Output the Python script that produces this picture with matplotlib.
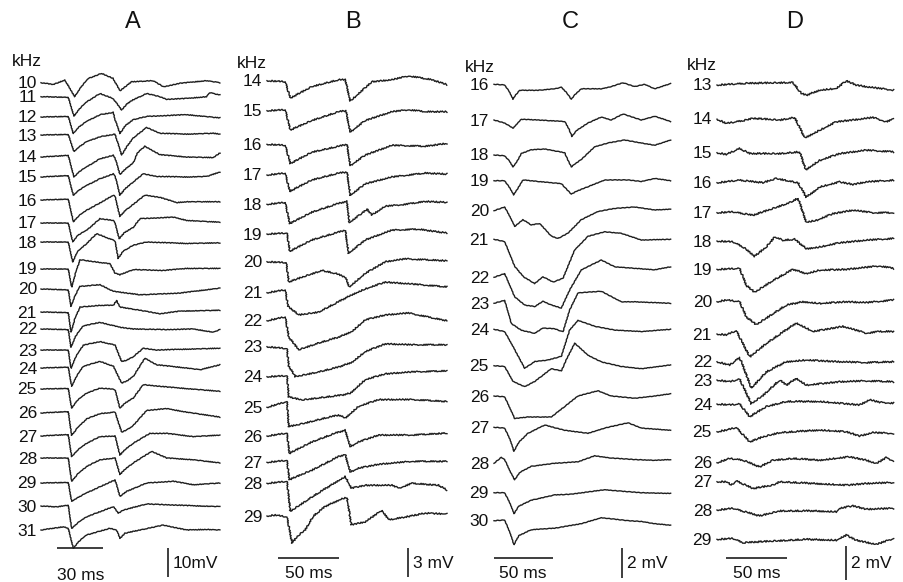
import numpy as np
import matplotlib
matplotlib.use("Agg")
import matplotlib.pyplot as plt

W, H, DPI = 904, 582, 100
INK = "#1e1e1e"
plt.rcParams["font.family"] = ["Liberation Sans", "DejaVu Sans"]

# ── Panel A : 10-31 kHz, traces as (ms, mV) keypoints ─────────
A_KHZ = [10, 11, 12, 13, 14, 15, 16, 17, 18, 19, 20, 21, 22, 23, 24, 25, 26, 27, 28, 29, 30, 31]
A_TRACES = [
    [(0, 0), (8, -0.6), (15.6, 0.9), (22, -4.8), (26, -1.5), (31, 1.5), (39.6, 3.2), (47, 1.5), (51.5, -2.8), (59, 0.3), (73, 0.7), (80, -1.4), (90.7, -0.2), (108, 0.7), (116.7, 0)],
    [(0, 0), (17.8, -0.2), (21.5, -6.7), (25, -4.2), (30, -1.7), (38.5, 1.1), (47, -0.6), (52.6, -4.6), (56, -2.5), (60, -1.1), (69, 1.1), (77.6, 0), (82, -0.9), (95, -0.6), (108, 0), (110, 1.4), (116.7, 0.6)],
    [(0, 0), (17.8, 0.2), (21.1, -5.7), (24.5, -3.5), (29.8, -1.5), (38.5, 0.8), (47.2, 1.6), (48.3, -0.9), (51.5, -5.7), (55, -3), (60.2, -0.9), (68.9, 0.2), (82, 0.5), (95, 0.8), (116.7, -0.3)],
    [(0, 0), (17.8, 0.2), (21.5, -5.7), (25, -4), (29.8, -2.3), (38.5, -0.6), (48.3, 0.3), (52.6, -6.9), (56, -4), (60.2, -1), (68.9, 2.6), (77.6, 0.6), (95, 0.3), (112.4, 0.6), (116.7, 0.3)],
    [(0, 0), (10, 0.3), (17.8, 0.6), (21.5, -6.9), (25, -5), (29.8, -3.4), (38.5, -0.6), (47.2, 0.6), (48.3, -0.3), (51.5, -6), (55, -4.2), (60.2, -2), (63, 1.5), (67.8, 3.7), (77.6, 0.8), (95, 0), (112.4, -0.2), (116.7, 1.4)],
    [(0, 0), (17.8, 0.5), (21.1, -6.3), (24.5, -4.6), (29.8, -2.9), (38.5, -0.6), (47.2, 1.1), (48.3, 0.5), (51.5, -6.3), (55, -4), (60.2, -1.7), (66.7, 1.1), (75.4, 0.2), (95, 0), (108, 0.2), (116.7, 1.7)],
    [(0, 0), (17.8, 0.3), (21.1, -7.5), (24.5, -5.5), (29.8, -3.5), (38.5, -1), (47.2, 1.7), (48.3, 1.2), (51.5, -5.7), (55, -3.6), (60.2, -1.5), (67.8, 1.7), (77.6, 0.9), (88.5, -0.9), (95, -0.6), (116.7, -0.6)],
    [(0, 0), (17.8, 0), (20.7, -6.5), (24, -4.2), (29.8, -2.5), (38.5, 1.5), (47.2, 0.9), (48, 0.5), (51, -5.4), (54.5, -3.3), (60.2, -1.5), (64.6, 1.5), (86.3, 2), (95, 0.9), (108, 0.5), (116.7, 0.3)],
    [(0, 0), (17.8, 0), (20.7, -6.9), (23.5, -3.5), (29.8, -0.5), (36.3, 2.9), (47.2, 0.6), (48.3, 0.3), (50.4, -5.7), (53.5, -3.2), (60.2, -1.1), (68.9, 0), (95, -0.5), (116.7, -0.3)],
    [(0, 0), (17.8, 0), (20, -6.2), (22.5, -1.5), (25.4, 3.2), (45, 1.8), (48.3, -1.4), (51.5, -2), (60.2, -0.2), (79.8, -0.5), (95, 0.2), (116.7, 0.2)],
    [(0, 0), (17.8, -0.3), (19.6, -6), (22, -2.5), (25.4, 0.9), (38.5, 1.5), (47.2, -0.8), (64.6, -2), (90.7, -1.4), (116.7, 0.3)],
    [(0, 0), (17.8, -0.2), (19.6, -6.9), (22, -2.5), (25.4, 1.7), (38.5, 2.3), (47.2, 2.3), (49.3, 4), (51.5, 1.7), (64.6, 0.6), (77.6, -0.6), (90.7, 0.3), (116.7, 0.6)],
    [(0, 0), (17.8, -0.2), (19.6, -6.3), (22.5, -2.5), (27.6, 1.1), (38.5, 2.3), (51.5, 0.6), (60.2, 0), (82, -0.2), (99.3, 0), (112.4, -1.1), (116.7, -0.2)],
    [(0, 0), (17.8, 0), (19.6, -6.3), (22.5, -2.5), (27.6, 1.7), (38.5, 2.9), (48.3, 1.7), (52.6, -4), (56, -3.5), (60.2, -2.3), (66.7, 0.6), (75.4, 0), (116.7, 0.6)],
    [(0, 0), (17.8, 0.3), (20, -6.3), (23, -3), (27.6, 0.6), (38.5, 2.3), (47.2, 0.6), (52.6, -5.2), (56, -4.5), (60.2, -2.9), (67.8, 3.4), (75.4, 1.1), (95, 0), (103.7, -0.6), (116.7, 1.1)],
    [(0, 0), (17.8, 0.2), (20, -6.6), (23.5, -4), (29.8, -1.4), (38.5, 0.3), (47.2, 0), (48.3, -0.3), (51.5, -6.6), (55, -4.8), (60.2, -3.1), (66.7, 1.5), (82, 0.7), (116.7, -0.8)],
    [(0, 0), (17.8, 0.5), (20, -7.7), (24, -5), (29.8, -2), (38.5, -0.2), (48.3, 0.3), (52.6, -6.6), (56, -5.8), (60.2, -4.3), (68.9, 0.9), (82, 1.5), (95, 0.3), (116.7, -1.4)],
    [(0, 0), (10, 0.3), (17.8, 0.5), (20, -7.1), (24, -4.8), (29.8, -2.5), (38.5, -0.2), (48.3, 0), (51.5, -6.6), (55, -4.6), (60.2, -2.5), (71, 0.9), (82, 0.9), (99.3, -0.2), (116.7, 0.3)],
    [(0, 0), (17.8, 0), (20, -8), (24, -5.5), (29.8, -2.9), (38.5, -0.6), (48.3, 0), (51.5, -5.7), (55, -3.8), (60.2, -1.7), (72.2, 2.3), (82, 0), (99.3, -0.6), (116.7, -1.7)],
    [(0, 0), (17.8, 0.2), (20, -6.3), (24, -5), (29.8, -3.4), (48.3, 1.1), (51.5, -4.6), (55.9, -2.9), (68.9, 0), (86.3, 0.6), (99.3, -0.6), (116.7, 0)],
    [(0, 0), (10, -0.3), (17.8, 0.3), (20, -7.7), (24, -5.8), (29.8, -3.7), (47.2, -0.2), (50.4, -2.5), (53.7, -1.4), (68.9, 0.7), (103.7, 0), (116.7, -0.2)],
    [(0, 0), (14.6, 1.1), (17.8, 0.6), (21.1, -6.3), (24.5, -4), (29.8, -1.7), (45, 0.6), (49.3, 0), (51.5, -2.9), (54.8, -1.1), (64.6, 0), (79.8, 1.7), (95, 0), (108, 0.2), (116.7, 0)],
]

# ── Panel B : 14-29 kHz ───────────────────────────────────────
B_KHZ = [14, 15, 16, 17, 18, 19, 20, 21, 22, 23, 24, 25, 26, 27, 28, 29]
B_TRACES = [
    [(0, 0), (15, -0.1), (19.1, -1.8), (36.9, -0.6), (58.7, 0.1), (64.2, 0.1), (68.3, -2.1), (86, -0.1), (102.5, 0.1), (116, 0.5), (135.2, 0.1), (147.5, -0.4)],
    [(0, 0), (15, 0.1), (19.1, -2), (36.9, -1), (58.7, -0.1), (64.7, 0), (68.3, -2.2), (80.6, -1), (102.5, -0.1), (116, 0.1), (129.8, -0.1), (147.5, -0.1)],
    [(0, 0), (15, -0.1), (19.1, -2), (36.9, -0.8), (58.7, -0.2), (65.6, 0), (68.3, -2.2), (80.6, -1.1), (102.5, -0.1), (129.8, -0.2), (147.5, 0.1)],
    [(0, 0), (15, 0.2), (18.6, -1.7), (36.9, -0.5), (58.7, 0.2), (65.6, 0.3), (68.3, -2.1), (80.6, -0.9), (102.5, -0.2), (129.8, 0.2), (147.5, 0.1)],
    [(0, 0), (15, 0.2), (18.6, -2), (36.9, -0.8), (58.7, 0.1), (65.6, 0.3), (67.5, -1.9), (77.9, -0.9), (82, -0.5), (86, -1.1), (97, -0.2), (113.4, 0), (129.8, 0.3), (147.5, 0.2)],
    [(0, 0), (16.4, 0.1), (18.6, -1.8), (36.9, -0.6), (58.7, 0.2), (64.2, 0.4), (66.9, -2), (80.6, -0.6), (102.5, 0.4), (124.3, 0.5), (147.5, 0.1)],
    [(0, 0), (15.8, -0.1), (17.8, -2.1), (28.7, -1.6), (45, -0.9), (56, -1.2), (64.2, -1.6), (67.5, -2.6), (80.6, -1.2), (97, 0), (113.4, 0.3), (129.8, 0.2), (147.5, 0.1)],
    [(0, 0), (15, 0.3), (17.2, -1.4), (26, -2.3), (42.3, -2), (56, -1.1), (69.7, -0.2), (80.6, 0.4), (97, 1.1), (118.9, 0.9), (147.5, 0.6)],
    [(0, 0), (15, 0.4), (17.8, -1.7), (26, -3), (42.3, -2.3), (58.7, -1.7), (69.7, -1.1), (80.6, 0.1), (97, 0.6), (116, 0.8), (135.2, 0.3), (147.5, 0)],
    [(0, 0), (16.4, -0.2), (17.8, -2), (23.2, -3.1), (42.3, -2.6), (58.7, -2.1), (69.7, -1.6), (80.6, -0.5), (97, 0.3), (118.9, 0.2), (147.5, 0.2)],
    [(0, 0), (16.4, 0.1), (17.8, -2.1), (28.7, -2.4), (47.8, -2.1), (61.5, -1.9), (68.3, -1.7), (80.6, -0.3), (97, 0.3), (118.9, 0.5), (147.5, 0.6)],
    [(0, 0), (16.4, 0.6), (17.8, -2), (28.7, -1.7), (47.8, -1.1), (58.7, -0.8), (64.2, -1.1), (75.1, 0.1), (91.5, 0.8), (118.9, 0.8), (147.5, 0.6)],
    [(0, 0), (16.4, 0.3), (18.3, -1.8), (36.9, -0.6), (56, 0.3), (64.2, 0.6), (68.3, -1.1), (75.1, -0.6), (91.5, 0.1), (118.9, 0.1), (147.5, 0.3)],
    [(0, 0), (16.4, 0.2), (18.3, -1.8), (36.9, -0.8), (58.7, 0.6), (64.2, 0.8), (68.3, -1), (75.1, -0.6), (91.5, -0.2), (118.9, 0.1), (147.5, 0.1)],
    [(0, 0), (16.4, 0.2), (19.1, -2.9), (36.9, -1.4), (58.7, 0.3), (64.2, 0.7), (69.1, -0.5), (80.6, -0.2), (102.5, -0.2), (108, -0.5), (118.9, 0), (140.7, -0.2), (147.5, -0.7)],
    [(0, 0), (6.8, 0.1), (16.4, -0.1), (20.5, -2.8), (25, -2.1), (31.4, -1.4), (38, 0), (47.8, 1), (61.5, 1.8), (65.6, 1.9), (69.1, -0.9), (80.6, -0.6), (94.3, 0.6), (99.7, -0.4), (113.4, -0.1), (129.8, 0.3), (147.5, 0.2)],
]

# ── Panel C : 16-30 kHz ───────────────────────────────────────
C_KHZ = [16, 17, 18, 19, 20, 21, 22, 23, 24, 25, 26, 27, 28, 29, 30]
C_TRACES = [
    [(0, 0), (9, -0.04), (13, -0.5), (16.1, -1), (18.5, -0.7), (21.8, -0.4), (37.3, -0.4), (51.4, -0.3), (57.1, -0.2), (62, -0.6), (65.5, -1), (68.5, -0.7), (74, -0.3), (91, -0.3), (99.4, -0.15), (109.3, 0.1), (119.2, -0.15), (127.7, 0), (136.2, -0.3), (149.7, 0.05)],
    [(0, 0), (9, -0.2), (16.1, -0.55), (23.2, 0.05), (37.3, 0), (59.9, -0.1), (63.5, -0.6), (66.1, -1.1), (70, -0.7), (79.7, -0.2), (91, 0.2), (99.4, 0), (109.3, 0.4), (124.9, 0), (136.2, 0.25), (149.7, -0.1)],
    [(0, 0), (9, -0.05), (13, -0.4), (16.1, -0.8), (19, -0.5), (23.2, 0.1), (31.6, 0.35), (42.9, 0.4), (59.9, 0.15), (63, -0.4), (65.5, -0.8), (68.5, -0.6), (74, -0.3), (85.3, 0.55), (96.6, 0.8), (110.7, 1), (124.9, 0.8), (136.2, 0.65), (149.7, 1)],
    [(0, 0), (9, 0), (13.5, -0.5), (16.7, -0.95), (19.5, -0.6), (24.6, 0.05), (37.3, -0.05), (57.1, -0.2), (65.5, -0.9), (70, -0.7), (79.7, -0.4), (93.8, 0.05), (113.6, 0.05), (124.9, -0.05), (136.2, 0.15), (149.7, 0)],
    [(0, 0), (9, 0.25), (13.5, -0.4), (17.5, -1.05), (24.6, -0.6), (31.6, -0.95), (38.7, -0.85), (48.6, -1.7), (54.2, -1.85), (62.7, -1.5), (74, -0.6), (88.1, -0.05), (102.3, 0.15), (119.2, 0.25), (136.2, 0.05), (149.7, 0.1)],
    [(0, 0), (9, -0.15), (17.5, -1.8), (25, -2.5), (34.5, -2.95), (41.5, -2.5), (50, -2.85), (58.5, -2.6), (68.4, -0.7), (79.7, 0.2), (93.8, 0.5), (107.9, 0.4), (124.9, -0.05), (149.7, 0)],
    [(0, 0), (9, 0.25), (17.5, -1.3), (26, -1.85), (34.5, -1.95), (41.5, -1.6), (48.6, -1.85), (57.1, -2.05), (64.1, -0.85), (74, 0.5), (91, 1.15), (102.3, 0.7), (119.2, 0.6), (136.2, 0.5), (149.7, 0.7)],
    [(0, 0), (9, 0.2), (14.7, -1.35), (23.2, -1.8), (34.5, -2), (41.5, -1.65), (51.4, -1.7), (58.5, -1.9), (64.1, -0.45), (71.2, 0.7), (91, 0.8), (107.9, 0.1), (119.2, 0.1), (149.7, 0)],
    [(0, 0), (9, -0.15), (16.1, -1.15), (26, -2.6), (34.5, -2.15), (45.8, -2.05), (57.1, -1.8), (64.1, -0.05), (71.2, 0.6), (85.3, 0.2), (102.3, -0.05), (124.9, -0.15), (149.7, 0)],
    [(0, 0), (9, -0.05), (16.1, -1.05), (26, -1.4), (34.5, -1.05), (48.6, -0.2), (57.1, -0.35), (61.3, 0.4), (68.4, 1.5), (79.7, 0.7), (91, 0.25), (107.9, -0.05), (124.9, -0.2), (149.7, 0.05)],
    [(0, 0), (9, -0.05), (17.5, -1.5), (28.8, -1.4), (48.6, -1.4), (59.9, -0.7), (71.2, 0), (88.1, 0.35), (99.4, 0), (119.2, -0.15), (136.2, 0), (149.7, 0.15)],
    [(0, 0), (9, -0.05), (13.5, -0.8), (16.9, -1.6), (21, -1), (28.8, -0.4), (42.9, 0.15), (59.9, -0.2), (79.7, -0.4), (93.8, -0.05), (113.6, 0.3), (124.9, -0.05), (149.7, -0.2)],
    [(0, 0), (6.2, 0.4), (9, 0.25), (14, -0.6), (17.5, -1.1), (22, -0.6), (31.6, -0.2), (51.4, 0), (71.2, 0.1), (85.3, 0.5), (99.4, 0.35), (119.2, 0.25), (136.2, 0.2), (149.7, 0.25)],
    [(0, 0), (9, 0), (13.5, -0.7), (16.9, -1.4), (21, -0.9), (31.6, -0.5), (51.4, -0.15), (65.5, -0.1), (93.8, 0.2), (107.9, 0.1), (124.9, 0), (149.7, -0.05)],
    [(0, 0), (9, 0.05), (13.5, -0.8), (16.9, -1.6), (21, -1), (31.6, -0.6), (51.4, -0.5), (74, -0.2), (91, 0.2), (113.6, 0), (124.9, -0.05), (136.2, -0.2), (149.7, -0.3)],
]

# ── Panel D : 13-29 kHz ───────────────────────────────────────
D_KHZ = [13, 14, 15, 16, 17, 18, 19, 20, 21, 22, 23, 24, 25, 26, 27, 28, 29]
D_TRACES = [
    [(0, 0), (24, 0.1), (62.3, 0.15), (69.1, -0.5), (73.2, -0.6), (84.2, -0.3), (97.8, -0.2), (106, 0.25), (114.2, 0), (122.4, -0.1), (133.3, -0.2), (144.8, -0.3)],
    [(0, -0.05), (7.7, -0.3), (24, -0.1), (29.5, 0), (51.4, -0.1), (63.7, 0.05), (71.9, -1.15), (84.2, -0.7), (97.8, -0.2), (116.9, -0.05), (127.9, 0.05), (138.8, -0.2), (144.8, -0.05)],
    [(0, 0), (7.7, -0.1), (18.6, 0.25), (26.8, -0.05), (51.4, -0.05), (67.8, 0.05), (72.7, -1), (84.2, -0.45), (100.5, -0.05), (122.4, 0.15), (144.8, 0.05)],
    [(0, 0), (18.6, 0.15), (37.7, 0), (48.6, 0.25), (66.4, 0), (73.2, -0.85), (84.2, -0.25), (100.5, 0.05), (111.5, -0.1), (122.4, 0.05), (144.8, 0.15)],
    [(0, 0), (13.1, 0.05), (29.5, -0.15), (45.9, 0.25), (59.6, 0.6), (66.4, 0.85), (73.2, -0.55), (81.4, -0.45), (95.1, -0.05), (111.5, 0.15), (127.9, 0), (144.8, 0)],
    [(0, 0), (13.1, -0.05), (21.3, -0.35), (30.9, -0.9), (40.4, -0.35), (47.3, 0.25), (54.1, 0.05), (63.7, 0.1), (73.2, -0.45), (84.2, -0.35), (100.5, -0.1), (122.4, 0.05), (144.8, 0.15)],
    [(0, 0), (18.6, 0.05), (24, -0.95), (30.9, -1.35), (45.9, -0.65), (62.3, 0), (73.2, -0.25), (84.2, -0.05), (106, 0), (133.3, 0.2), (144.8, 0.05)],
    [(0, 0), (7.7, 0.1), (18.6, 0), (24, -0.9), (32.2, -1.35), (45.9, -0.7), (56.8, -0.2), (70.5, 0), (84.2, -0.1), (106, 0), (122.4, -0.05), (144.8, 0.1)],
    [(0, 0), (7.7, -0.05), (15.8, 0.2), (26.8, -1.35), (40.4, -0.55), (65, 0.65), (78.7, 0.15), (103.3, 0.45), (122.4, 0.05), (133.3, 0.15), (144.8, 0.15)],
    [(0, 0), (10.4, -0.2), (18.6, 0.25), (28.1, -1.55), (40.4, -0.6), (56.8, 0), (73.2, 0.1), (100.5, 0), (122.4, -0.05), (144.8, 0)],
    [(0, 0), (10.4, -0.1), (18.6, 0.05), (28.1, -1.4), (37.7, -0.9), (51.4, 0), (56.8, -0.3), (65, 0.1), (73.2, -0.3), (100.5, -0.1), (122.4, -0.05), (144.8, -0.1)],
    [(0, 0), (10.4, -0.05), (18.6, 0), (26.8, -0.75), (40.4, -0.15), (56.8, 0.15), (84.2, 0.15), (100.5, 0.05), (116.9, -0.05), (125.1, 0.25), (133.3, 0.1), (144.8, 0.05)],
    [(0, 0), (7.7, 0.1), (15.8, 0.25), (26.8, -0.6), (37.7, -0.3), (51.4, -0.05), (84.2, 0.1), (106, 0), (116.9, -0.25), (127.9, -0.05), (144.8, -0.1)],
    [(0, 0), (10.4, 0.25), (21.3, 0.15), (35, -0.25), (45.9, 0.15), (62.3, 0.25), (84.2, 0.15), (108.7, 0.35), (122.4, 0.15), (130.6, -0.05), (138.8, 0.3), (144.8, 0.1)],
    [(0, 0), (7.7, 0), (11.7, -0.2), (15.8, 0.05), (29.5, -0.4), (45.9, -0.2), (51.4, 0), (78.7, -0.1), (106, -0.2), (122.4, -0.1), (144.8, -0.05)],
    [(0, 0), (13.1, 0.1), (35, -0.35), (51.4, -0.05), (78.7, -0.05), (97.8, -0.1), (100.5, 0.1), (111.5, 0.25), (122.4, 0.05), (144.8, 0.1)],
    [(0, 0), (13.1, 0.05), (21.3, -0.2), (45.9, -0.1), (73.2, 0), (97.8, -0.05), (106, 0.25), (114.2, -0.05), (130.6, -0.3), (144.8, 0.05)],
]

# ── Layout (pixels of the 904x582 canvas) ────────────────────
A_ROWS = [82.7, 96.7, 117, 135, 157, 177, 200, 223, 242, 269, 289, 312, 329, 350, 368, 389, 413, 436, 458, 483, 506, 530]
B_ROWS = [80.7, 110.7, 144.3, 175, 204.3, 234, 261.7, 292.7, 320.7, 346.7, 376.7, 407.3, 436, 462.3, 483.3, 516]
C_ROWS = [84.3, 120, 155, 180.7, 210.7, 239.3, 277.3, 303.3, 329.3, 365.7, 396, 427.3, 463.3, 492.7, 520.7]
D_ROWS = [85, 118.3, 152.7, 182.7, 212.7, 241, 269.3, 301.7, 334, 361.7, 380, 404, 431.7, 462.7, 481.7, 510, 539.3]

LBL_FS, KHZ_FS, TITLE_FS, BAR_FS = 12.5, 12.5, 17, 12.5

PANELS = [
    dict(title="A", title_x=133, x0=41, px_ms=1.533, px_mv=2.9, khz=A_KHZ, rows=A_ROWS, traces=A_TRACES,
         khz_x=12, khz_y=62, hbar=(57, 548, 30), ms_txt=("30 ms", 81, 575),
         vbar=(168, 577, 10), mv_txt=("10mV", 173, 564), sketch=(0.35, 3, 2), lbl_gap=4),
    dict(title="B", title_x=353, x0=267, px_ms=1.22, px_mv=9.67, khz=B_KHZ, rows=B_ROWS, traces=B_TRACES,
         khz_x=237, khz_y=64, hbar=(278, 558, 50), ms_txt=("50 ms", 309, 574),
         vbar=(408, 577, 3), mv_txt=("3 mV", 413, 563), sketch=(0.7, 2.5, 2), lbl_gap=5),
    dict(title="C", title_x=570, x0=494, px_ms=1.18, px_mv=15, khz=C_KHZ, rows=C_ROWS, traces=C_TRACES,
         khz_x=465, khz_y=67, hbar=(494, 558, 50), ms_txt=("50 ms", 523, 574),
         vbar=(622, 578, 2), mv_txt=("2 mV", 627, 564), sketch=(0.25, 4, 2), lbl_gap=5),
    dict(title="D", title_x=795, x0=717, px_ms=1.22, px_mv=17, khz=D_KHZ, rows=D_ROWS, traces=D_TRACES,
         khz_x=687, khz_y=66, hbar=(726, 558, 50), ms_txt=("50 ms", 757, 574),
         vbar=(846, 580, 2), mv_txt=("2 mV", 851, 564), sketch=(0.8, 2.5, 2), lbl_gap=5),
]


def fx(px):
    return px / W


def fy(py):
    return 1 - py / H


def draw_panel(fig, p):
    ax = fig.add_axes([0, 0, 1, 1])
    ax.set_xlim(-p["x0"] / p["px_ms"], (W - p["x0"]) / p["px_ms"])
    ax.set_ylim(-H / p["px_mv"], 0)
    ax.axis("off")
    ax.patch.set_alpha(0)

    for khz, row, pts in zip(p["khz"], p["rows"], p["traces"]):
        t = [q[0] for q in pts]
        v = np.array([q[1] for q in pts]) - row / p["px_mv"]
        line, = ax.plot(t, v, color=INK, lw=1.0, solid_joinstyle="round")
        if p["sketch"]:
            line.set_sketch_params(*p["sketch"])
        fig.text(fx(p["x0"] - p["lbl_gap"]), fy(row + 1), str(khz),
                 ha="right", va="center", fontsize=LBL_FS, color="#111")

    fig.text(fx(p["khz_x"]), fy(p["khz_y"]), "kHz", ha="left", va="center", fontsize=KHZ_FS, color="#111")
    fig.text(fx(p["title_x"]), fy(22), p["title"], ha="center", va="center", fontsize=TITLE_FS, color="#111")

    # time scale bar
    hx, hy, ms = p["hbar"]
    t0 = (hx - p["x0"]) / p["px_ms"]
    ax.plot([t0, t0 + ms], [-hy / p["px_mv"]] * 2, color=INK, lw=1.2, solid_capstyle="butt")
    txt, tx, ty = p["ms_txt"]
    fig.text(fx(tx), fy(ty), txt, ha="center", va="center", fontsize=BAR_FS, color="#111")

    # voltage scale bar
    vx, vy, mv = p["vbar"]
    tv = (vx - p["x0"]) / p["px_ms"]
    yb = -vy / p["px_mv"]
    ax.plot([tv, tv], [yb, yb + mv], color=INK, lw=1.2, solid_capstyle="butt")
    txt, tx, ty = p["mv_txt"]
    fig.text(fx(tx), fy(ty), txt, ha="left", va="center", fontsize=BAR_FS, color="#111")


fig = plt.figure(figsize=(W / DPI, H / DPI), dpi=DPI, facecolor="white")
for panel in PANELS:
    draw_panel(fig, panel)

fig.savefig("out.png", dpi=DPI, facecolor="white")
